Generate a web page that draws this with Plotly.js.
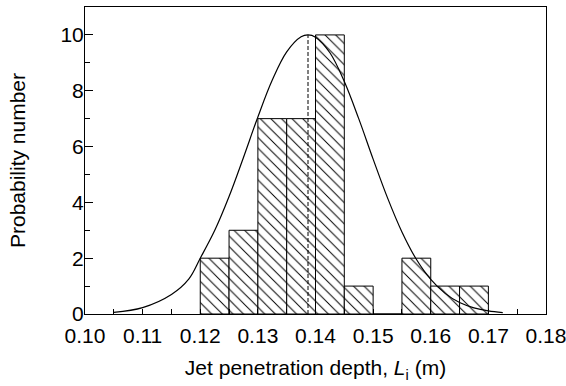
<!DOCTYPE html>
<html>
<head>
<meta charset="utf-8">
<script src="https://cdn.plot.ly/plotly-3.0.1.min.js"></script>
<style>html,body{margin:0;padding:0;background:#fff;}#chart{width:566px;height:386px;}</style>
</head>
<body>
<div id="chart"></div>
<script>
// Histogram bins (centres, m) and counts
const binCenters = [0.1225, 0.1275, 0.1325, 0.1375, 0.1425, 0.1475, 0.1525, 0.1575, 0.1625, 0.1675];
const binCounts  = [2, 3, 7, 7, 10, 1, 0, 2, 1, 1];
const binWidth = 0.005;

// Fitted normal curve
const curveX = [0.105, 0.110, 0.115, 0.118, 0.120, 0.1225, 0.125, 0.1275, 0.130, 0.1325, 0.135, 0.1375, 0.1387,
                0.140, 0.1425, 0.145, 0.1475, 0.150, 0.1525, 0.155, 0.1575, 0.160, 0.1625, 0.165, 0.1675, 0.170, 0.1725];
const curveY = [0.06, 0.23, 0.70, 1.25, 2.00, 2.99, 4.21, 5.61, 7.06, 8.38, 9.39, 9.93, 10.0,
                9.92, 9.36, 8.33, 7.00, 5.55, 4.16, 2.94, 1.96, 1.24, 0.74, 0.41, 0.22, 0.11, 0.05];

// Mean line
const meanX = [0.1387, 0.1387];
const meanY = [0, 10];

const xTickVals = [0.10, 0.11, 0.12, 0.13, 0.14, 0.15, 0.16, 0.17, 0.18];
const xTickText = ['0.10', '0.11', '0.12', '0.13', '0.14', '0.15', '0.16', '0.17', '0.18'];

const FONT = '"Liberation Sans", Arial, Helvetica, sans-serif';
const FS = 21;

const traces = [
  {
    type: 'bar',
    x: binCenters,
    y: binCounts,
    width: binWidth,
    marker: {
      color: 'white',
      line: {color: 'black', width: 1},
      pattern: {shape: '\\', size: 7.5, solidity: 0.13, fgcolor: 'black', bgcolor: 'white'}
    },
    hoverinfo: 'skip',
    showlegend: false
  },
  {
    type: 'scatter',
    mode: 'lines',
    x: curveX,
    y: curveY,
    line: {color: 'black', width: 1.2, shape: 'spline', smoothing: 1},
    showlegend: false,
    hoverinfo: 'skip'
  },
  {
    type: 'scatter',
    mode: 'lines',
    x: meanX,
    y: meanY,
    line: {color: 'black', width: 1, dash: '4px,2px'},
    showlegend: false,
    hoverinfo: 'skip'
  }
];

const layout = {
  width: 566,
  height: 386,
  margin: {l: 85, r: 20, t: 7, b: 72},
  paper_bgcolor: 'white',
  plot_bgcolor: 'white',
  font: {family: FONT, color: 'black', size: FS},
  bargap: 0,
  xaxis: {
    range: [0.10, 0.18],
    tickmode: 'array',
    tickvals: xTickVals,
    ticktext: xTickText,
    ticks: 'inside',
    ticklen: 5,
    tickwidth: 1,
    tickcolor: 'black',
    ticklabelstandoff: 3,
    ticklabeloverflow: 'allow',
    minor: {dtick: 0.005, tick0: 0.10, ticks: 'inside', ticklen: 5, tickwidth: 1, tickcolor: 'black', showgrid: false},
    showline: true,
    linecolor: 'black',
    linewidth: 1,
    mirror: true,
    showgrid: false,
    zeroline: false,
    tickfont: {family: FONT, size: FS, color: 'black'},
    title: {text: 'Jet penetration depth, <i>L</i><sub>i</sub> (m)', font: {family: FONT, size: FS, color: 'black'}, standoff: 14}
  },
  yaxis: {
    range: [0, 11],
    tickmode: 'linear',
    tick0: 0,
    dtick: 2,
    ticks: 'inside',
    ticklen: 8,
    tickwidth: 1,
    tickcolor: 'black',
    ticklabelstandoff: -4,
    minor: {dtick: 1, tick0: 0, ticks: 'inside', ticklen: 5, tickwidth: 1, tickcolor: 'black', showgrid: false},
    showline: true,
    linecolor: 'black',
    linewidth: 1,
    mirror: true,
    showgrid: false,
    zeroline: false,
    tickfont: {family: FONT, size: FS, color: 'black'},
    title: {text: 'Probability number', font: {family: FONT, size: FS, color: 'black'}, standoff: 29}
  }
};

Plotly.newPlot('chart', traces, layout, {staticPlot: true, displayModeBar: false});
</script>
</body>
</html>
